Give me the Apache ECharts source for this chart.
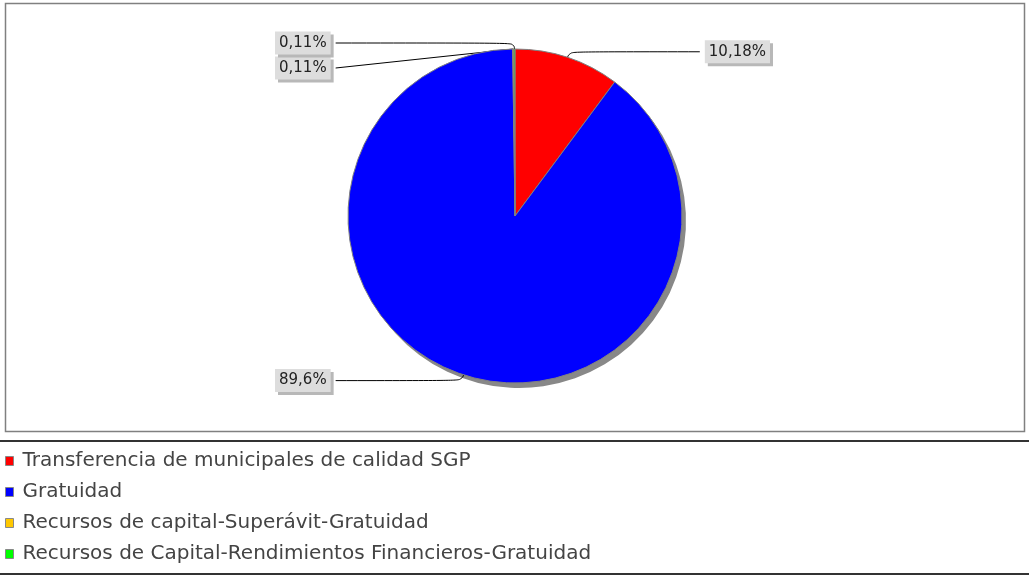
<!DOCTYPE html>
<html>
<head>
<meta charset="utf-8">
<script src="https://cdn.jsdelivr.net/npm/echarts@6/dist/echarts.min.js"></script>
<style>
  html, body { margin: 0; padding: 0; background: #fff; }
  #piechart { width: 1029px; height: 578px; }
</style>
</head>
<body>
<div id="piechart"></div>
<script>
let piepage = document.getElementById('piechart');
let pieChart = echarts.init(piepage);

// fuentes y porcentajes
let sourceNames = [
    'Transferencia de municipales de calidad SGP',
    'Gratuidad',
    'Recursos de capital-Superávit-Gratuidad',
    'Recursos de Capital-Rendimientos Financieros-Gratuidad'
];
let sourcePercent = [10.18, 89.6, 0.11, 0.11];
let sourceColors = ['#ff0000', '#0000ff', '#ffc800', '#00ff00'];

let pieData = sourceNames.map((name, i) => ({
    name: name,
    value: sourcePercent[i],
    itemStyle: { color: sourceColors[i] }
}));

let shadowData = sourceNames.map((name, i) => ({
    name: name + ' ',
    value: sourcePercent[i]
}));

let font = 'DejaVu Sans, sans-serif';

let opov = {
    backgroundColor: '#ffffff',
    animation: false,
    graphic: [
        {
            type: 'rect',
            shape: { x: 5.5, y: 3.5, width: 1019, height: 428 },
            style: { fill: 'none', stroke: '#808080', lineWidth: 1.5 },
            z: -10
        },
        {
            type: 'line',
            shape: { x1: 0, y1: 441, x2: 1029, y2: 441 },
            style: { stroke: '#333', lineWidth: 2 }
        },
        {
            type: 'line',
            shape: { x1: 0, y1: 574, x2: 1029, y2: 574 },
            style: { stroke: '#333', lineWidth: 2 }
        }
    ],
    legend: {
        data: sourceNames,
        orient: 'vertical',
        left: 0,
        top: 446,
        icon: 'rect',
        itemWidth: 8,
        itemHeight: 9,
        itemGap: 11,
        selectedMode: false,
        itemStyle: { borderColor: '#888', borderWidth: 1 },
        textStyle: {
            fontFamily: font,
            fontSize: 20,
            lineHeight: 20,
            color: '#444',
            padding: [0, 0, 0, 4]
        }
    },
    series: [
        {
            // sombra del pastel
            name: 'sombra',
            type: 'pie',
            silent: true,
            left: 0,
            top: 0,
            width: 1029,
            height: 578,
            center: [519, 221],
            radius: 167,
            startAngle: 90,
            label: { show: false },
            labelLine: { show: false },
            itemStyle: { color: '#888888' },
            data: shadowData,
            z: 1
        },
        {
            name: 'Fuentes',
            type: 'pie',
            left: 0,
            top: 0,
            width: 1045,
            height: 578,
            center: [515, 216],
            radius: 167,
            startAngle: 90,
            clockwise: true,
            avoidLabelOverlap: true,
            itemStyle: {
                borderColor: '#808080',
                borderWidth: 1
            },
            label: {
                show: true,
                alignTo: 'edge',
                edgeDistance: 275,
                fontFamily: font,
                fontSize: 15,
                color: '#222',
                backgroundColor: '#dddddd',
                padding: [4, 4],
                shadowColor: '#b8b8b8',
                shadowOffsetX: 3,
                shadowOffsetY: 3,
                shadowBlur: 0,
                formatter: function (p) {
                    return String(p.value).replace('.', ',') + '%';
                }
            },
            labelLine: {
                show: true,
                length: 6,
                length2: 20,
                smooth: 0.6,
                lineStyle: { color: '#000', width: 1 }
            },
            emphasis: { disabled: true },
            data: pieData,
            z: 2
        }
    ]
};

pieChart.setOption(opov);
</script>
</body>
</html>
